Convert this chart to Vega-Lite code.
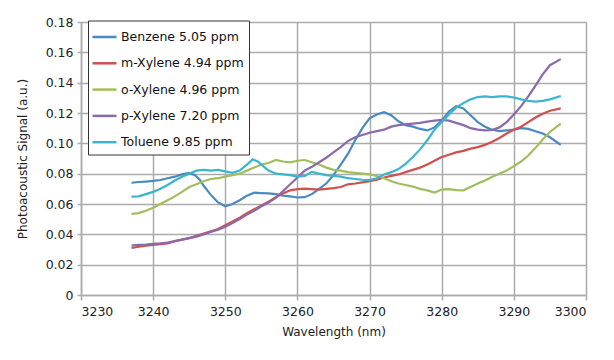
{
"$schema": "https://vega.github.io/schema/vega-lite/v6.json",
"width": 505, "height": 273,
"autosize": "none",
"padding": {"left": 81, "top": 22, "right": 28, "bottom": 65},
"background": "white",
"config": {"view": {"stroke": null}, "font": "DejaVu Sans"},
"data": {"values": [
{"s":"Benzene 5.05 ppm","x":3237,"y":0.074},{"s":"Benzene 5.05 ppm","x":3238,"y":0.0745},{"s":"Benzene 5.05 ppm","x":3239,"y":0.0748},{"s":"Benzene 5.05 ppm","x":3240,"y":0.0752},{"s":"Benzene 5.05 ppm","x":3241,"y":0.0758},{"s":"Benzene 5.05 ppm","x":3242,"y":0.077},{"s":"Benzene 5.05 ppm","x":3243,"y":0.078},{"s":"Benzene 5.05 ppm","x":3244,"y":0.0795},{"s":"Benzene 5.05 ppm","x":3245,"y":0.0805},{"s":"Benzene 5.05 ppm","x":3245.8,"y":0.079},{"s":"Benzene 5.05 ppm","x":3246.5,"y":0.0758},{"s":"Benzene 5.05 ppm","x":3247,"y":0.072},{"s":"Benzene 5.05 ppm","x":3248,"y":0.066},{"s":"Benzene 5.05 ppm","x":3249,"y":0.061},{"s":"Benzene 5.05 ppm","x":3250,"y":0.0585},{"s":"Benzene 5.05 ppm","x":3251,"y":0.06},{"s":"Benzene 5.05 ppm","x":3252,"y":0.0625},{"s":"Benzene 5.05 ppm","x":3253,"y":0.0655},{"s":"Benzene 5.05 ppm","x":3254,"y":0.0675},{"s":"Benzene 5.05 ppm","x":3255,"y":0.0672},{"s":"Benzene 5.05 ppm","x":3256,"y":0.067},{"s":"Benzene 5.05 ppm","x":3257,"y":0.0665},{"s":"Benzene 5.05 ppm","x":3258,"y":0.0655},{"s":"Benzene 5.05 ppm","x":3259,"y":0.065},{"s":"Benzene 5.05 ppm","x":3260,"y":0.0643},{"s":"Benzene 5.05 ppm","x":3261,"y":0.0645},{"s":"Benzene 5.05 ppm","x":3262,"y":0.0665},{"s":"Benzene 5.05 ppm","x":3263,"y":0.07},{"s":"Benzene 5.05 ppm","x":3264,"y":0.0735},{"s":"Benzene 5.05 ppm","x":3265,"y":0.079},{"s":"Benzene 5.05 ppm","x":3266,"y":0.086},{"s":"Benzene 5.05 ppm","x":3267,"y":0.093},{"s":"Benzene 5.05 ppm","x":3268,"y":0.102},{"s":"Benzene 5.05 ppm","x":3269,"y":0.11},{"s":"Benzene 5.05 ppm","x":3270,"y":0.1165},{"s":"Benzene 5.05 ppm","x":3271,"y":0.119},{"s":"Benzene 5.05 ppm","x":3272,"y":0.1205},{"s":"Benzene 5.05 ppm","x":3273,"y":0.1185},{"s":"Benzene 5.05 ppm","x":3274,"y":0.1145},{"s":"Benzene 5.05 ppm","x":3275,"y":0.112},{"s":"Benzene 5.05 ppm","x":3276,"y":0.111},{"s":"Benzene 5.05 ppm","x":3277,"y":0.1095},{"s":"Benzene 5.05 ppm","x":3278,"y":0.1085},{"s":"Benzene 5.05 ppm","x":3279,"y":0.1105},{"s":"Benzene 5.05 ppm","x":3280,"y":0.115},{"s":"Benzene 5.05 ppm","x":3281,"y":0.121},{"s":"Benzene 5.05 ppm","x":3282,"y":0.1245},{"s":"Benzene 5.05 ppm","x":3283,"y":0.123},{"s":"Benzene 5.05 ppm","x":3284,"y":0.1185},{"s":"Benzene 5.05 ppm","x":3285,"y":0.114},{"s":"Benzene 5.05 ppm","x":3286,"y":0.111},{"s":"Benzene 5.05 ppm","x":3287,"y":0.109},{"s":"Benzene 5.05 ppm","x":3288,"y":0.108},{"s":"Benzene 5.05 ppm","x":3289,"y":0.1085},{"s":"Benzene 5.05 ppm","x":3290,"y":0.109},{"s":"Benzene 5.05 ppm","x":3291,"y":0.11},{"s":"Benzene 5.05 ppm","x":3292,"y":0.1095},{"s":"Benzene 5.05 ppm","x":3293,"y":0.108},{"s":"Benzene 5.05 ppm","x":3294,"y":0.1065},{"s":"Benzene 5.05 ppm","x":3295,"y":0.104},{"s":"Benzene 5.05 ppm","x":3296.5,"y":0.099},
{"s":"m-Xylene 4.94 ppm","x":3237,"y":0.031},{"s":"m-Xylene 4.94 ppm","x":3238,"y":0.0318},{"s":"m-Xylene 4.94 ppm","x":3239,"y":0.0325},{"s":"m-Xylene 4.94 ppm","x":3240,"y":0.033},{"s":"m-Xylene 4.94 ppm","x":3241,"y":0.0335},{"s":"m-Xylene 4.94 ppm","x":3242,"y":0.034},{"s":"m-Xylene 4.94 ppm","x":3243,"y":0.0355},{"s":"m-Xylene 4.94 ppm","x":3244,"y":0.0365},{"s":"m-Xylene 4.94 ppm","x":3245,"y":0.0375},{"s":"m-Xylene 4.94 ppm","x":3246,"y":0.039},{"s":"m-Xylene 4.94 ppm","x":3247,"y":0.0405},{"s":"m-Xylene 4.94 ppm","x":3248,"y":0.042},{"s":"m-Xylene 4.94 ppm","x":3249,"y":0.0435},{"s":"m-Xylene 4.94 ppm","x":3250,"y":0.046},{"s":"m-Xylene 4.94 ppm","x":3251,"y":0.0485},{"s":"m-Xylene 4.94 ppm","x":3252,"y":0.051},{"s":"m-Xylene 4.94 ppm","x":3253,"y":0.054},{"s":"m-Xylene 4.94 ppm","x":3254,"y":0.0565},{"s":"m-Xylene 4.94 ppm","x":3255,"y":0.059},{"s":"m-Xylene 4.94 ppm","x":3256,"y":0.0615},{"s":"m-Xylene 4.94 ppm","x":3257,"y":0.0645},{"s":"m-Xylene 4.94 ppm","x":3258,"y":0.067},{"s":"m-Xylene 4.94 ppm","x":3259,"y":0.069},{"s":"m-Xylene 4.94 ppm","x":3260,"y":0.0698},{"s":"m-Xylene 4.94 ppm","x":3261,"y":0.0702},{"s":"m-Xylene 4.94 ppm","x":3262,"y":0.0698},{"s":"m-Xylene 4.94 ppm","x":3263,"y":0.0695},{"s":"m-Xylene 4.94 ppm","x":3264,"y":0.07},{"s":"m-Xylene 4.94 ppm","x":3265,"y":0.0705},{"s":"m-Xylene 4.94 ppm","x":3266,"y":0.0712},{"s":"m-Xylene 4.94 ppm","x":3267,"y":0.073},{"s":"m-Xylene 4.94 ppm","x":3268,"y":0.0735},{"s":"m-Xylene 4.94 ppm","x":3269,"y":0.0742},{"s":"m-Xylene 4.94 ppm","x":3270,"y":0.075},{"s":"m-Xylene 4.94 ppm","x":3271,"y":0.076},{"s":"m-Xylene 4.94 ppm","x":3272,"y":0.0775},{"s":"m-Xylene 4.94 ppm","x":3273,"y":0.0785},{"s":"m-Xylene 4.94 ppm","x":3274,"y":0.0795},{"s":"m-Xylene 4.94 ppm","x":3275,"y":0.081},{"s":"m-Xylene 4.94 ppm","x":3276,"y":0.0825},{"s":"m-Xylene 4.94 ppm","x":3277,"y":0.084},{"s":"m-Xylene 4.94 ppm","x":3278,"y":0.086},{"s":"m-Xylene 4.94 ppm","x":3279,"y":0.0885},{"s":"m-Xylene 4.94 ppm","x":3280,"y":0.091},{"s":"m-Xylene 4.94 ppm","x":3281,"y":0.0925},{"s":"m-Xylene 4.94 ppm","x":3282,"y":0.094},{"s":"m-Xylene 4.94 ppm","x":3283,"y":0.095},{"s":"m-Xylene 4.94 ppm","x":3284,"y":0.0965},{"s":"m-Xylene 4.94 ppm","x":3285,"y":0.0975},{"s":"m-Xylene 4.94 ppm","x":3286,"y":0.099},{"s":"m-Xylene 4.94 ppm","x":3287,"y":0.101},{"s":"m-Xylene 4.94 ppm","x":3288,"y":0.1035},{"s":"m-Xylene 4.94 ppm","x":3289,"y":0.1065},{"s":"m-Xylene 4.94 ppm","x":3290,"y":0.109},{"s":"m-Xylene 4.94 ppm","x":3291,"y":0.111},{"s":"m-Xylene 4.94 ppm","x":3292,"y":0.114},{"s":"m-Xylene 4.94 ppm","x":3293,"y":0.117},{"s":"m-Xylene 4.94 ppm","x":3294,"y":0.1195},{"s":"m-Xylene 4.94 ppm","x":3295,"y":0.1215},{"s":"m-Xylene 4.94 ppm","x":3296.5,"y":0.123},
{"s":"o-Xylene 4.96 ppm","x":3237,"y":0.0535},{"s":"o-Xylene 4.96 ppm","x":3238,"y":0.054},{"s":"o-Xylene 4.96 ppm","x":3239,"y":0.0555},{"s":"o-Xylene 4.96 ppm","x":3240,"y":0.0575},{"s":"o-Xylene 4.96 ppm","x":3241,"y":0.06},{"s":"o-Xylene 4.96 ppm","x":3242,"y":0.0625},{"s":"o-Xylene 4.96 ppm","x":3243,"y":0.065},{"s":"o-Xylene 4.96 ppm","x":3244,"y":0.068},{"s":"o-Xylene 4.96 ppm","x":3245,"y":0.0712},{"s":"o-Xylene 4.96 ppm","x":3246,"y":0.073},{"s":"o-Xylene 4.96 ppm","x":3247,"y":0.075},{"s":"o-Xylene 4.96 ppm","x":3248,"y":0.0765},{"s":"o-Xylene 4.96 ppm","x":3249,"y":0.077},{"s":"o-Xylene 4.96 ppm","x":3250,"y":0.078},{"s":"o-Xylene 4.96 ppm","x":3251,"y":0.079},{"s":"o-Xylene 4.96 ppm","x":3252,"y":0.08},{"s":"o-Xylene 4.96 ppm","x":3253,"y":0.082},{"s":"o-Xylene 4.96 ppm","x":3254,"y":0.084},{"s":"o-Xylene 4.96 ppm","x":3255,"y":0.086},{"s":"o-Xylene 4.96 ppm","x":3256,"y":0.087},{"s":"o-Xylene 4.96 ppm","x":3257,"y":0.089},{"s":"o-Xylene 4.96 ppm","x":3258,"y":0.088},{"s":"o-Xylene 4.96 ppm","x":3259,"y":0.0875},{"s":"o-Xylene 4.96 ppm","x":3260,"y":0.0885},{"s":"o-Xylene 4.96 ppm","x":3261,"y":0.089},{"s":"o-Xylene 4.96 ppm","x":3262,"y":0.0875},{"s":"o-Xylene 4.96 ppm","x":3263,"y":0.086},{"s":"o-Xylene 4.96 ppm","x":3264,"y":0.084},{"s":"o-Xylene 4.96 ppm","x":3265,"y":0.0825},{"s":"o-Xylene 4.96 ppm","x":3266,"y":0.082},{"s":"o-Xylene 4.96 ppm","x":3267,"y":0.081},{"s":"o-Xylene 4.96 ppm","x":3268,"y":0.0805},{"s":"o-Xylene 4.96 ppm","x":3269,"y":0.08},{"s":"o-Xylene 4.96 ppm","x":3270,"y":0.0795},{"s":"o-Xylene 4.96 ppm","x":3271,"y":0.0785},{"s":"o-Xylene 4.96 ppm","x":3272,"y":0.077},{"s":"o-Xylene 4.96 ppm","x":3273,"y":0.075},{"s":"o-Xylene 4.96 ppm","x":3274,"y":0.0735},{"s":"o-Xylene 4.96 ppm","x":3275,"y":0.0725},{"s":"o-Xylene 4.96 ppm","x":3276,"y":0.0715},{"s":"o-Xylene 4.96 ppm","x":3277,"y":0.07},{"s":"o-Xylene 4.96 ppm","x":3278,"y":0.069},{"s":"o-Xylene 4.96 ppm","x":3279,"y":0.0675},{"s":"o-Xylene 4.96 ppm","x":3280,"y":0.0695},{"s":"o-Xylene 4.96 ppm","x":3281,"y":0.0698},{"s":"o-Xylene 4.96 ppm","x":3282,"y":0.0692},{"s":"o-Xylene 4.96 ppm","x":3283,"y":0.069},{"s":"o-Xylene 4.96 ppm","x":3284,"y":0.0712},{"s":"o-Xylene 4.96 ppm","x":3285,"y":0.0735},{"s":"o-Xylene 4.96 ppm","x":3286,"y":0.0755},{"s":"o-Xylene 4.96 ppm","x":3287,"y":0.078},{"s":"o-Xylene 4.96 ppm","x":3288,"y":0.08},{"s":"o-Xylene 4.96 ppm","x":3289,"y":0.082},{"s":"o-Xylene 4.96 ppm","x":3290,"y":0.085},{"s":"o-Xylene 4.96 ppm","x":3291,"y":0.088},{"s":"o-Xylene 4.96 ppm","x":3292,"y":0.092},{"s":"o-Xylene 4.96 ppm","x":3293,"y":0.097},{"s":"o-Xylene 4.96 ppm","x":3294,"y":0.1025},{"s":"o-Xylene 4.96 ppm","x":3295,"y":0.1075},{"s":"o-Xylene 4.96 ppm","x":3296.5,"y":0.113},
{"s":"p-Xylene 7.20 ppm","x":3237,"y":0.0325},{"s":"p-Xylene 7.20 ppm","x":3238,"y":0.033},{"s":"p-Xylene 7.20 ppm","x":3239,"y":0.0333},{"s":"p-Xylene 7.20 ppm","x":3240,"y":0.0338},{"s":"p-Xylene 7.20 ppm","x":3241,"y":0.034},{"s":"p-Xylene 7.20 ppm","x":3242,"y":0.0345},{"s":"p-Xylene 7.20 ppm","x":3243,"y":0.0355},{"s":"p-Xylene 7.20 ppm","x":3244,"y":0.0365},{"s":"p-Xylene 7.20 ppm","x":3245,"y":0.0375},{"s":"p-Xylene 7.20 ppm","x":3246,"y":0.0385},{"s":"p-Xylene 7.20 ppm","x":3247,"y":0.04},{"s":"p-Xylene 7.20 ppm","x":3248,"y":0.0415},{"s":"p-Xylene 7.20 ppm","x":3249,"y":0.043},{"s":"p-Xylene 7.20 ppm","x":3250,"y":0.045},{"s":"p-Xylene 7.20 ppm","x":3251,"y":0.0475},{"s":"p-Xylene 7.20 ppm","x":3252,"y":0.05},{"s":"p-Xylene 7.20 ppm","x":3253,"y":0.053},{"s":"p-Xylene 7.20 ppm","x":3254,"y":0.0555},{"s":"p-Xylene 7.20 ppm","x":3255,"y":0.0585},{"s":"p-Xylene 7.20 ppm","x":3256,"y":0.061},{"s":"p-Xylene 7.20 ppm","x":3257,"y":0.064},{"s":"p-Xylene 7.20 ppm","x":3258,"y":0.0685},{"s":"p-Xylene 7.20 ppm","x":3259,"y":0.073},{"s":"p-Xylene 7.20 ppm","x":3260,"y":0.0775},{"s":"p-Xylene 7.20 ppm","x":3261,"y":0.082},{"s":"p-Xylene 7.20 ppm","x":3262,"y":0.0845},{"s":"p-Xylene 7.20 ppm","x":3263,"y":0.0875},{"s":"p-Xylene 7.20 ppm","x":3264,"y":0.0905},{"s":"p-Xylene 7.20 ppm","x":3265,"y":0.094},{"s":"p-Xylene 7.20 ppm","x":3266,"y":0.0975},{"s":"p-Xylene 7.20 ppm","x":3267,"y":0.1015},{"s":"p-Xylene 7.20 ppm","x":3268,"y":0.104},{"s":"p-Xylene 7.20 ppm","x":3269,"y":0.1055},{"s":"p-Xylene 7.20 ppm","x":3270,"y":0.107},{"s":"p-Xylene 7.20 ppm","x":3271,"y":0.108},{"s":"p-Xylene 7.20 ppm","x":3272,"y":0.109},{"s":"p-Xylene 7.20 ppm","x":3273,"y":0.111},{"s":"p-Xylene 7.20 ppm","x":3274,"y":0.112},{"s":"p-Xylene 7.20 ppm","x":3275,"y":0.1125},{"s":"p-Xylene 7.20 ppm","x":3276,"y":0.113},{"s":"p-Xylene 7.20 ppm","x":3277,"y":0.1135},{"s":"p-Xylene 7.20 ppm","x":3278,"y":0.1143},{"s":"p-Xylene 7.20 ppm","x":3279,"y":0.115},{"s":"p-Xylene 7.20 ppm","x":3280,"y":0.1154},{"s":"p-Xylene 7.20 ppm","x":3281,"y":0.115},{"s":"p-Xylene 7.20 ppm","x":3282,"y":0.1135},{"s":"p-Xylene 7.20 ppm","x":3283,"y":0.112},{"s":"p-Xylene 7.20 ppm","x":3284,"y":0.11},{"s":"p-Xylene 7.20 ppm","x":3285,"y":0.109},{"s":"p-Xylene 7.20 ppm","x":3286,"y":0.1085},{"s":"p-Xylene 7.20 ppm","x":3287,"y":0.1088},{"s":"p-Xylene 7.20 ppm","x":3288,"y":0.1105},{"s":"p-Xylene 7.20 ppm","x":3289,"y":0.114},{"s":"p-Xylene 7.20 ppm","x":3290,"y":0.119},{"s":"p-Xylene 7.20 ppm","x":3291,"y":0.1245},{"s":"p-Xylene 7.20 ppm","x":3292,"y":0.131},{"s":"p-Xylene 7.20 ppm","x":3293,"y":0.138},{"s":"p-Xylene 7.20 ppm","x":3294,"y":0.1455},{"s":"p-Xylene 7.20 ppm","x":3295,"y":0.1515},{"s":"p-Xylene 7.20 ppm","x":3296.5,"y":0.1555},
{"s":"Toluene 9.85 ppm","x":3237,"y":0.0648},{"s":"Toluene 9.85 ppm","x":3238,"y":0.065},{"s":"Toluene 9.85 ppm","x":3239,"y":0.0665},{"s":"Toluene 9.85 ppm","x":3240,"y":0.068},{"s":"Toluene 9.85 ppm","x":3241,"y":0.07},{"s":"Toluene 9.85 ppm","x":3242,"y":0.0725},{"s":"Toluene 9.85 ppm","x":3243,"y":0.0755},{"s":"Toluene 9.85 ppm","x":3244,"y":0.078},{"s":"Toluene 9.85 ppm","x":3245,"y":0.08},{"s":"Toluene 9.85 ppm","x":3246,"y":0.082},{"s":"Toluene 9.85 ppm","x":3247,"y":0.0825},{"s":"Toluene 9.85 ppm","x":3248,"y":0.082},{"s":"Toluene 9.85 ppm","x":3249,"y":0.0825},{"s":"Toluene 9.85 ppm","x":3250,"y":0.0815},{"s":"Toluene 9.85 ppm","x":3251,"y":0.0805},{"s":"Toluene 9.85 ppm","x":3252,"y":0.082},{"s":"Toluene 9.85 ppm","x":3253,"y":0.086},{"s":"Toluene 9.85 ppm","x":3253.8,"y":0.0895},{"s":"Toluene 9.85 ppm","x":3254.5,"y":0.088},{"s":"Toluene 9.85 ppm","x":3255,"y":0.086},{"s":"Toluene 9.85 ppm","x":3256,"y":0.082},{"s":"Toluene 9.85 ppm","x":3257,"y":0.08},{"s":"Toluene 9.85 ppm","x":3258,"y":0.0795},{"s":"Toluene 9.85 ppm","x":3259,"y":0.079},{"s":"Toluene 9.85 ppm","x":3260,"y":0.078},{"s":"Toluene 9.85 ppm","x":3261,"y":0.0785},{"s":"Toluene 9.85 ppm","x":3262,"y":0.0812},{"s":"Toluene 9.85 ppm","x":3263,"y":0.08},{"s":"Toluene 9.85 ppm","x":3264,"y":0.079},{"s":"Toluene 9.85 ppm","x":3265,"y":0.0785},{"s":"Toluene 9.85 ppm","x":3266,"y":0.078},{"s":"Toluene 9.85 ppm","x":3267,"y":0.077},{"s":"Toluene 9.85 ppm","x":3268,"y":0.0765},{"s":"Toluene 9.85 ppm","x":3269,"y":0.076},{"s":"Toluene 9.85 ppm","x":3270,"y":0.0758},{"s":"Toluene 9.85 ppm","x":3271,"y":0.077},{"s":"Toluene 9.85 ppm","x":3272,"y":0.0795},{"s":"Toluene 9.85 ppm","x":3273,"y":0.081},{"s":"Toluene 9.85 ppm","x":3274,"y":0.083},{"s":"Toluene 9.85 ppm","x":3275,"y":0.0865},{"s":"Toluene 9.85 ppm","x":3276,"y":0.091},{"s":"Toluene 9.85 ppm","x":3277,"y":0.096},{"s":"Toluene 9.85 ppm","x":3278,"y":0.102},{"s":"Toluene 9.85 ppm","x":3279,"y":0.109},{"s":"Toluene 9.85 ppm","x":3280,"y":0.114},{"s":"Toluene 9.85 ppm","x":3281,"y":0.119},{"s":"Toluene 9.85 ppm","x":3282,"y":0.1235},{"s":"Toluene 9.85 ppm","x":3283,"y":0.1265},{"s":"Toluene 9.85 ppm","x":3284,"y":0.129},{"s":"Toluene 9.85 ppm","x":3285,"y":0.1305},{"s":"Toluene 9.85 ppm","x":3286,"y":0.131},{"s":"Toluene 9.85 ppm","x":3287,"y":0.1305},{"s":"Toluene 9.85 ppm","x":3288,"y":0.131},{"s":"Toluene 9.85 ppm","x":3289,"y":0.131},{"s":"Toluene 9.85 ppm","x":3290,"y":0.1302},{"s":"Toluene 9.85 ppm","x":3291,"y":0.129},{"s":"Toluene 9.85 ppm","x":3292,"y":0.128},{"s":"Toluene 9.85 ppm","x":3293,"y":0.1275},{"s":"Toluene 9.85 ppm","x":3294,"y":0.128},{"s":"Toluene 9.85 ppm","x":3295,"y":0.129},{"s":"Toluene 9.85 ppm","x":3296.5,"y":0.1312}
]},
"mark": {"type": "line", "strokeWidth": 2.2},
"encoding": {
"x": {"field": "x", "type": "quantitative",
 "scale": {"domain": [3230, 3300], "nice": false, "zero": false},
 "axis": {"title": "Wavelength (nm)", "values": [3230,3240,3250,3260,3270,3280,3290,3300], "format": "d",
  "grid": true, "gridColor": "#ababab", "gridWidth": 1.5, "domainColor": "#ababab", "domainWidth": 1.5,
  "tickColor": "#ababab", "tickWidth": 1.5, "tickSize": 5, "labelFontSize": 12.5, "labelColor": "#222222",
  "labelPadding": 5, "titleFontSize": 12, "titleFontWeight": "normal", "titleColor": "#222222", "titlePadding": 9}},
"y": {"field": "y", "type": "quantitative",
 "scale": {"domain": [0, 0.18], "nice": false},
 "axis": {"title": "Photoacoustic Signal (a.u.)", "values": [0,0.02,0.04,0.06,0.08,0.1,0.12,0.14,0.16,0.18],
  "labelExpr": "datum.value == 0 ? '0' : format(datum.value, '.2f')",
  "grid": true, "gridColor": "#ababab", "gridWidth": 1.5, "domainColor": "#ababab", "domainWidth": 1.5,
  "tickColor": "#ababab", "tickWidth": 1.5, "tickSize": 4, "labelFontSize": 12.5, "labelColor": "#222222",
  "labelPadding": 4, "titleFontSize": 12, "titleFontWeight": "normal", "titleColor": "#222222", "titlePadding": 16}},
"color": {"field": "s", "type": "nominal",
 "scale": {"domain": ["Benzene 5.05 ppm","m-Xylene 4.94 ppm","o-Xylene 4.96 ppm","p-Xylene 7.20 ppm","Toluene 9.85 ppm"],
  "range": ["#4a8ac0","#d0504e","#a2bd5e","#8a6aaa","#3ab5cc"]},
 "legend": {"title": null, "orient": "none", "legendX": 7, "legendY": -1.5,
  "symbolType": "M-1.2,0H1.2", "symbolSize": 400,
  "symbolStrokeWidth": 2.5, "labelFontSize": 12.5, "labelColor": "#111111", "labelOffset": 5, "rowPadding": 8.3,
  "padding": 5, "strokeColor": "#333333", "fillColor": "white", "cornerRadius": 0}}
}
}
